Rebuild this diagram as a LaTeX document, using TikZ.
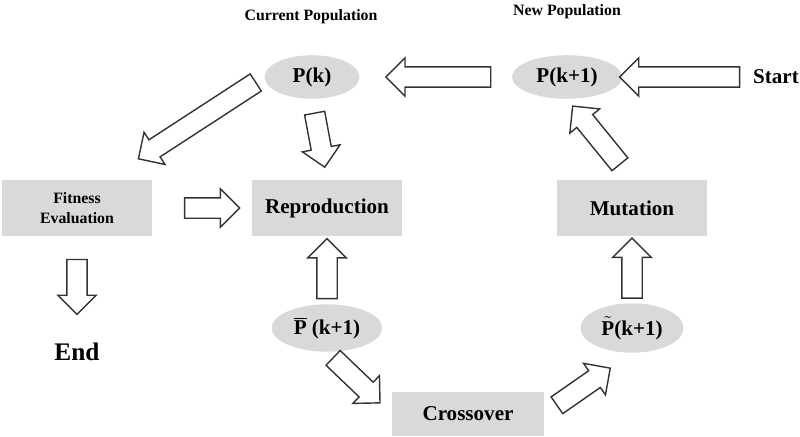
\documentclass[tikz,border=0pt]{standalone}
\usepackage{fontspec}
\setmainfont{Liberation Serif}
\usetikzlibrary{shapes.geometric, shapes.arrows, calc}
\tikzset{
    box/.style={fill=gray!30, minimum width=3cm, minimum height=1.14cm, font=\bfseries\large}, % grey step boxes
    pop/.style={ellipse, fill=gray!30, minimum width=2cm, minimum height=0.85cm, font=\bfseries\large}, % populations
    blk/.style={single arrow, draw=black!80, fill=white, thick, sloped, allow upside down, inner sep=0.19cm,
        single arrow head extend=0.18cm, single arrow tip angle=90, single arrow head indent=0pt},
}
\begin{document}
\begin{tikzpicture}[x=0.02cm, y=-0.02cm]
    \useasboundingbox (0,0) rectangle (800,436);
    \node[pop, minimum width=1.9cm] (pk) at (312,77) {P(k)};
    \node[font=\bfseries\small] (cur) at (311,17) {Current Population};
    \node[pop, minimum width=2.2cm] (pk1) at (567,77) {P(k+1)};
    \node[font=\bfseries\small] (new) at (567,12) {New Population};
    \node[font=\bfseries\large] (start) at (776,77) {Start};
    \node[box, font=\bfseries\small, align=center] (fit) at (77,208) {Fitness\\Evaluation};
    \node[box] (rep) at (327,208) {Reproduction};
    \node[box] (mut) at (632,208) {Mutation};
    \node[pop, minimum height=0.9cm] (pbar) at (327,328) {$\overline{\mbox{\bfseries P}}$ (k+1)};
    \node[pop, minimum height=0.9cm] (ptil) at (632,328) {$\tilde{\mbox{\bfseries P}}$(k+1)};
    \node[box, minimum width=3.04cm, minimum height=0.88cm] (cross) at (468,414) {Crossover};
    \node[font=\bfseries\Large] (end) at (77,352) {End};
    % block arrows between the nodes
    \path (start) -- node[blk, minimum height=2.4cm] {} (pk1);
    \path (pk1) -- node[blk, pos=0.45, minimum height=2.1cm] {} (pk);
    \path (pk.west) -- node[blk, pos=0.4, minimum height=2.8cm] {} ($(fit.north)!0.4!(fit.north east)$);
    \path (pk.south) -- node[blk, pos=0.45, minimum height=1.1cm] {} (rep.north);
    \path (fit.east) -- node[blk, pos=0.55, minimum height=1.1cm] {} (rep.west);
    \path (fit.south) -- node[blk, pos=0.45, minimum height=1.1cm] {} (end.north);
    \path (pbar.north) -- node[blk, pos=0.45, minimum height=1.2cm] {} (rep.south);
    \path (ptil.north) -- node[blk, pos=0.45, minimum height=1.2cm] {} (mut.south);
    \path (mut.north) -- node[blk, minimum height=1.5cm] {} (pk1.south);
    \path (pbar.south) -- node[blk, pos=0.4, minimum height=1.3cm] {} (cross.west);
    \path (cross.east) -- node[blk, pos=0.4, minimum height=1.3cm] {} (ptil.south);
\end{tikzpicture}
\end{document}
